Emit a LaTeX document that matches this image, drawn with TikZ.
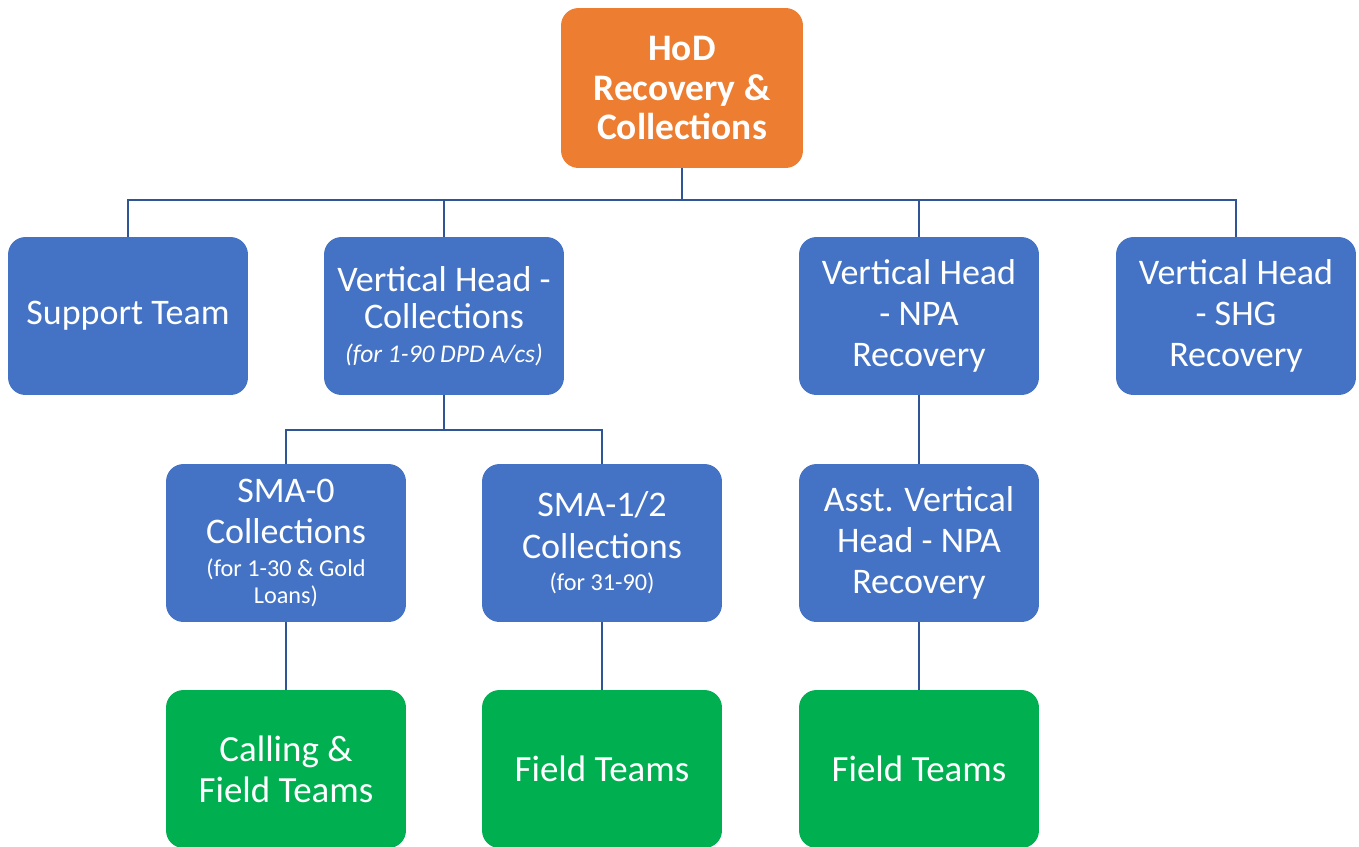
\documentclass[tikz,border=0pt]{standalone}
\usepackage{fontspec}
\setmainfont{Carlito}
\usepackage{xcolor}
\definecolor{boxblue}{HTML}{4472C4}
\definecolor{headorange}{HTML}{ED7D31}
\definecolor{teamgreen}{HTML}{00B050}
\definecolor{linkblue}{HTML}{2F5597}
\newcommand{\subnote}{\fontsize{13.8}{15.2}\selectfont}

\begin{document}
\begin{tikzpicture}[x=0.02cm,y=-0.02cm,
  unit/.style={draw=none,fill=boxblue,rounded corners=0.35cm,text=white,
    minimum width=4.8cm,minimum height=3.16cm,align=center,
    font=\fontsize{20.5}{23.5}\selectfont},
  head/.style={unit,fill=headorange,minimum width=4.84cm,minimum height=3.2cm,
    font=\bfseries\fontsize{21.3}{22.7}\selectfont},
  team/.style={unit,fill=teamgreen,font=\fontsize{21}{23.5}\selectfont},
  link/.style={draw=linkblue,line width=1.1pt}]
\useasboundingbox (0,0) rectangle (1359,846);
% top
\node[head] (hod) at (682,88) {HoD\\Recovery \&\\Collections};
% first row
\node[unit] (support) at (128,316) {Support Team};
\node[unit] (vhcoll) at (444,316) {Vertical Head -\\[-2.5pt]Collections\\[-4pt]
  {\itshape\fontsize{14.5}{16}\selectfont (for 1-90 DPD A/cs)}};
\node[unit] (vhnpa) at (919,316) {Vertical Head\\- NPA\\Recovery};
\node[unit] (vhshg) at (1236,316) {Vertical Head\\- SHG\\Recovery};
% second row
\node[unit] (smazero) at (286,543) {SMA-0\\Collections\\[-5pt]
  \subnote (for 1-30 \& Gold\\[-8pt]\subnote Loans)};
\node[unit] (smaone) at (602,543) {SMA-1/2\\Collections\\[-5pt]\subnote (for 31-90)};
\node[unit] (asstnpa) at (919,543) {Asst. Vertical\\Head - NPA\\Recovery};
% third row
\node[team] (calling) at (286,769) {Calling \&\\Field Teams};
\node[team] (fieldone) at (602,769) {Field Teams};
\node[team] (fieldtwo) at (919,769) {Field Teams};
% connectors
\coordinate (topbus) at (682,200);
\coordinate (collbus) at (444,430);
\draw[link] (hod.south) -- (topbus);
\foreach \n in {support,vhcoll,vhnpa,vhshg}
  \draw[link] (\n.north) |- (topbus);
\draw[link] (vhcoll.south) -- (collbus);
\foreach \n in {smazero,smaone}
  \draw[link] (\n.north) |- (collbus);
\draw[link] (vhnpa.south) -- (asstnpa.north);
\draw[link] (smazero.south) -- (calling.north);
\draw[link] (smaone.south) -- (fieldone.north);
\draw[link] (asstnpa.south) -- (fieldtwo.north);
\end{tikzpicture}
\end{document}
